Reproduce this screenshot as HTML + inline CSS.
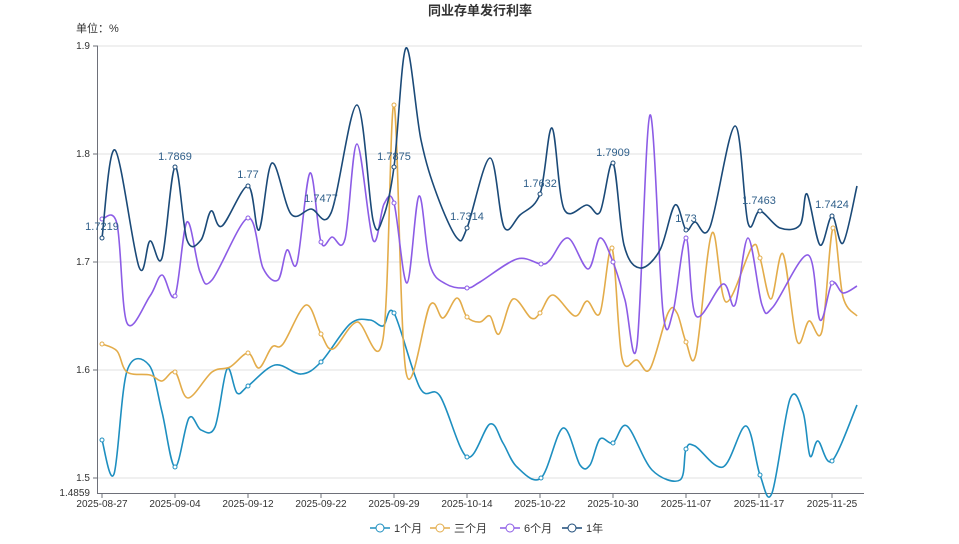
<!DOCTYPE html>
<html><head><meta charset="utf-8"><style>
body{margin:0;background:#fff;width:959px;height:539px;overflow:hidden;font-family:"Liberation Sans","Noto Sans CJK SC",sans-serif}
</style></head><body>
<svg id="s" width="959" height="539" xmlns="http://www.w3.org/2000/svg" font-family="Liberation Sans, Noto Sans CJK SC, sans-serif">
<text x="480" y="15" text-anchor="middle" font-size="13" font-weight="bold" fill="#333">同业存单发行利率</text>
<text x="76" y="32" font-size="11" fill="#333">单位：%</text>
<g stroke="#e0e0e0" stroke-width="1">
<line x1="98" x2="862" y1="46" y2="46"/><line x1="98" x2="862" y1="154" y2="154"/><line x1="98" x2="862" y1="262" y2="262"/><line x1="98" x2="862" y1="370" y2="370"/><line x1="98" x2="862" y1="478" y2="478"/>
</g>
<g stroke="#6e7079" stroke-width="1">
<line x1="97.5" x2="97.5" y1="46" y2="493"/><line x1="97" x2="864" y1="493.5" y2="493.5"/>
<line x1="93" x2="98" y1="46" y2="46"/><line x1="93" x2="98" y1="154" y2="154"/><line x1="93" x2="98" y1="262" y2="262"/><line x1="93" x2="98" y1="370" y2="370"/><line x1="93" x2="98" y1="478" y2="478"/>
</g>
<g font-size="10" fill="#333" text-anchor="end">
<text x="90" y="49">1.9</text><text x="90" y="157">1.8</text><text x="90" y="265">1.7</text><text x="90" y="373">1.6</text><text x="90" y="481">1.5</text><text x="90" y="496">1.4859</text>
</g>
<g id="xl" font-size="10" fill="#333" text-anchor="middle"></g>
<g id="lines" fill="none" stroke-width="1.6"></g>
<g font-size="11" fill="#2f5f8a" text-anchor="middle">
<text x="102" y="230">1.7219</text><text x="175" y="160">1.7869</text><text x="248" y="178">1.77</text><text x="321" y="202">1.7477</text><text x="394" y="160">1.7875</text><text x="467" y="220">1.7314</text><text x="540" y="187">1.7632</text><text x="613" y="156">1.7909</text><text x="686" y="222">1.73</text><text x="759" y="204">1.7463</text><text x="832" y="208">1.7424</text>
</g>
<g font-size="11" fill="#333">
<line x1="370" x2="390" y1="528" y2="528" stroke="#1e8fc0" stroke-width="1.6"/><circle cx="380" cy="528" r="4" fill="#fff" stroke="#1e8fc0"/><text x="394" y="532">1个月</text>
<line x1="430" x2="450" y1="528" y2="528" stroke="#e3ac4a" stroke-width="1.6"/><circle cx="440" cy="528" r="4" fill="#fff" stroke="#e3ac4a"/><text x="454" y="532">三个月</text>
<line x1="500" x2="520" y1="528" y2="528" stroke="#8c5ce6" stroke-width="1.6"/><circle cx="510" cy="528" r="4" fill="#fff" stroke="#8c5ce6"/><text x="524" y="532">6个月</text>
<line x1="562" x2="582" y1="528" y2="528" stroke="#1b4a78" stroke-width="1.6"/><circle cx="572" cy="528" r="4" fill="#fff" stroke="#1b4a78"/><text x="586" y="532">1年</text>
</g>
</svg>
<script>
var NS="http://www.w3.org/2000/svg";
var labs=["2025-08-27","2025-09-04","2025-09-12","2025-09-22","2025-09-29","2025-10-14","2025-10-22","2025-10-30","2025-11-07","2025-11-17","2025-11-25"];
var xl=document.getElementById("xl");
labs.forEach(function(l,i){var x=102+73*i;var t=document.createElementNS(NS,"text");t.setAttribute("x",x);t.setAttribute("y",507);t.textContent=l;xl.appendChild(t);
var k=document.createElementNS(NS,"line");k.setAttribute("x1",x);k.setAttribute("x2",x);k.setAttribute("y1",493);k.setAttribute("y2",498);k.setAttribute("stroke","#6e7079");document.getElementById("s").appendChild(k);});
function P(a){var r=[];for(var i=0;i<a.length;i+=2)r.push([a[i],a[i+1]]);return r;}
var series=[
["#1e8fc0",P([102,440,114,474,127,371,149,365,162,412,175,467,189,418,201,430,215,427,227,369,237,393,248,386,275,365,301,374,321,362,350,324,370,320,383,326,394,313,420,388,440,396,467,457,490,424,503,443,517,467,541,478,563,428,580,465,590,465,600,439,613,443,627,426,652,470,680,480,686,449,695,446,723,467,746,426,760,475,772,493,790,399,803,412,810,456,818,441,832,461,857,405])],
["#e3ac4a",P([102,344,117,351,127,372,150,375,162,381,175,372,188,398,212,372,230,367,248,353,259,368,272,347,283,344,306,305,321,334,333,349,357,322,383,339,394,105,406,372,430,305,443,318,457,298,467,317,480,322,490,316,499,334,513,299,531,318,540,313,553,295,575,316,587,301,600,313,612,248,622,358,637,360,650,369,668,313,677,313,686,342,696,354,712,233,726,302,752,247,760,258,771,299,783,254,797,341,809,321,822,331,833,228,843,297,857,316])],
["#8c5ce6",P([102,219,117,224,127,323,150,296,162,275,175,296,187,222,200,272,212,280,248,218,263,268,278,280,287,250,297,263,310,173,321,242,332,237,345,239,357,144,373,240,384,204,394,203,407,283,419,196,430,265,446,284,467,288,480,282,517,259,541,264,550,260,568,238,588,269,600,238,613,262,625,300,637,345,650,115,663,312,673,312,686,238,696,316,723,284,735,305,748,238,762,305,773,307,808,255,820,320,832,283,843,293,857,286])],
["#1b4a78",P([102,238,115,150,139,267,150,241,162,258,175,167,187,240,201,240,211,211,222,226,248,186,259,230,272,163,291,214,311,209,331,213,357,105,373,220,383,218,394,167,406,48,421,140,437,195,457,238,467,228,490,158,504,227,520,215,540,194,552,128,564,209,587,205,600,212,613,163,624,245,640,268,660,250,675,205,686,230,695,222,710,227,735,126,748,223,760,211,780,228,800,225,807,194,820,245,832,216,843,243,857,186])]
];
var g=document.getElementById("lines");
series.forEach(function(s){var p=s[1],d="M"+p[0][0]+","+p[0][1];
for(var i=0;i<p.length-1;i++){var p0=p[Math.max(i-1,0)],p1=p[i],p2=p[i+1],p3=p[Math.min(i+2,p.length-1)];
d+=" C"+(p1[0]+(p2[0]-p0[0])/6)+","+(p1[1]+(p2[1]-p0[1])/6)+" "+(p2[0]-(p3[0]-p1[0])/6)+","+(p2[1]-(p3[1]-p1[1])/6)+" "+p2[0]+","+p2[1];}
var e=document.createElementNS(NS,"path");e.setAttribute("d",d);e.setAttribute("stroke",s[0]);g.appendChild(e);
p.forEach(function(q){if([102,175,248,321,394,467,540,613,686,759,832].some(function(x){return Math.abs(x-q[0])<2;})){var c=document.createElementNS(NS,"circle");c.setAttribute("cx",q[0]);c.setAttribute("cy",q[1]);c.setAttribute("r",2);c.setAttribute("fill","#fff");c.setAttribute("stroke",s[0]);c.setAttribute("stroke-width",1);g.appendChild(c);}});
});
</script>
</body></html>
